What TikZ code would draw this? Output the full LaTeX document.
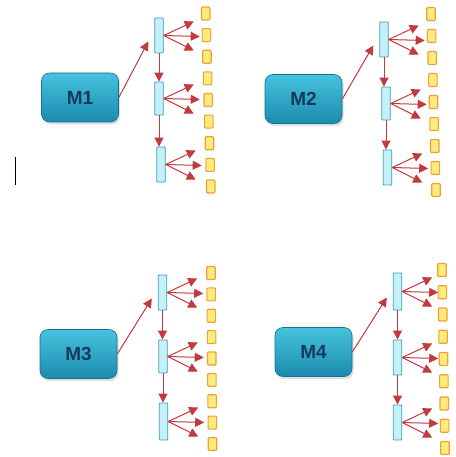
\documentclass[tikz,border=0pt]{standalone}
\usepackage{fontspec}
\setmainfont{Liberation Sans}
\usetikzlibrary{arrows.meta,calc,shadows}
\definecolor{mtop}{HTML}{45C3DE}
\definecolor{mbot}{HTML}{1C8BAE}
\definecolor{mline}{HTML}{16708E}
\definecolor{mtext}{HTML}{173A5C}
\definecolor{barfill}{HTML}{C4F0F8}
\definecolor{barline}{HTML}{3E9FBA}
\definecolor{yfill}{HTML}{FFEA7C}
\definecolor{yline}{HTML}{EDA238}
\definecolor{rarr}{HTML}{C23A3E}
\tikzset{
  mbox/.style={draw=mline, line width=0.6pt, rounded corners=8pt, top color=mtop, bottom color=mbot,
    minimum width=77pt, minimum height=49pt, font=\fontsize{19}{22}\selectfont\bfseries, text=mtext,
    drop shadow={opacity=0.25, shadow xshift=1.5pt, shadow yshift=-2.5pt}},
  vbar/.style={draw=barline, fill=barfill, line width=0.9pt, minimum width=8.5pt, inner sep=0pt, rounded corners=0.8pt},
  ysq/.style={draw=yline, fill=yfill, line width=1.1pt, minimum width=8.5pt, minimum height=13pt, inner sep=0pt, rounded corners=1pt},
  rarrow/.style={draw=rarr, line width=1pt, -{Triangle[length=9pt,width=9pt]}},
}
\begin{document}
\begin{tikzpicture}[x=1pt,y=-1pt]
\useasboundingbox (0,0) rectangle (455,457);
\draw[line width=1.6pt] (15.5,157) -- (15.5,185);
\foreach \p/\mx/\my/\ax/\ay/\ah/\bx/\by/\bh/\cx/\cy/\ch/\ytx/\yty/\ybx/\yby in {
  1/80/97.5/159/35.5/35/159/98.5/33/161/164.5/35/205.7/13.5/210.7/186.5,
  2/303.5/99/384/39.5/35/386/103.5/33/387.5/167.5/35/431/14/436/190,
  3/78.5/354/162.5/292.5/35/163/356.5/33/163.5/421.5/37/211/273/212.5/444,
  4/313.5/352/397.5/291.5/37/397.5/357.5/35/397.5/422.5/35/442/270/445/448}{
  \node[mbox] (m\p) at (\mx,\my) {M\p};
  \node[vbar, minimum height=\ah] (b\p-a) at (\ax,\ay) {};
  \node[vbar, minimum height=\bh] (b\p-b) at (\bx,\by) {};
  \node[vbar, minimum height=\ch] (b\p-c) at (\cx,\cy) {};
  \foreach \i in {0,...,8}
    \node[ysq] (y\p-\i) at ($(\ytx,\yty)!\i/8!(\ybx,\yby)$) {};
  \coordinate (mt\p) at ($(b\p-a.west)+(-6,6)$);
  \draw[rarrow] (m\p.east) -- (mt\p);
  \draw[rarrow] (b\p-a.south) -- (b\p-a.south |- b\p-b.north);
  \draw[rarrow] (b\p-b.south) -- (b\p-b.south |- b\p-c.north);
  \foreach \b in {a,b,c}{
    \coordinate (f\p\b1) at ($(b\p-\b.east)+(30,-14)$);
    \coordinate (f\p\b2) at ($(b\p-\b.east)+(36,1)$);
    \coordinate (f\p\b3) at ($(b\p-\b.east)+(30,15)$);
    \draw[rarrow] (b\p-\b.east) -- (f\p\b1);
    \draw[rarrow] (b\p-\b.east) -- (f\p\b2);
    \draw[rarrow] (b\p-\b.east) -- (f\p\b3);
  }
}
\end{tikzpicture}
\end{document}
